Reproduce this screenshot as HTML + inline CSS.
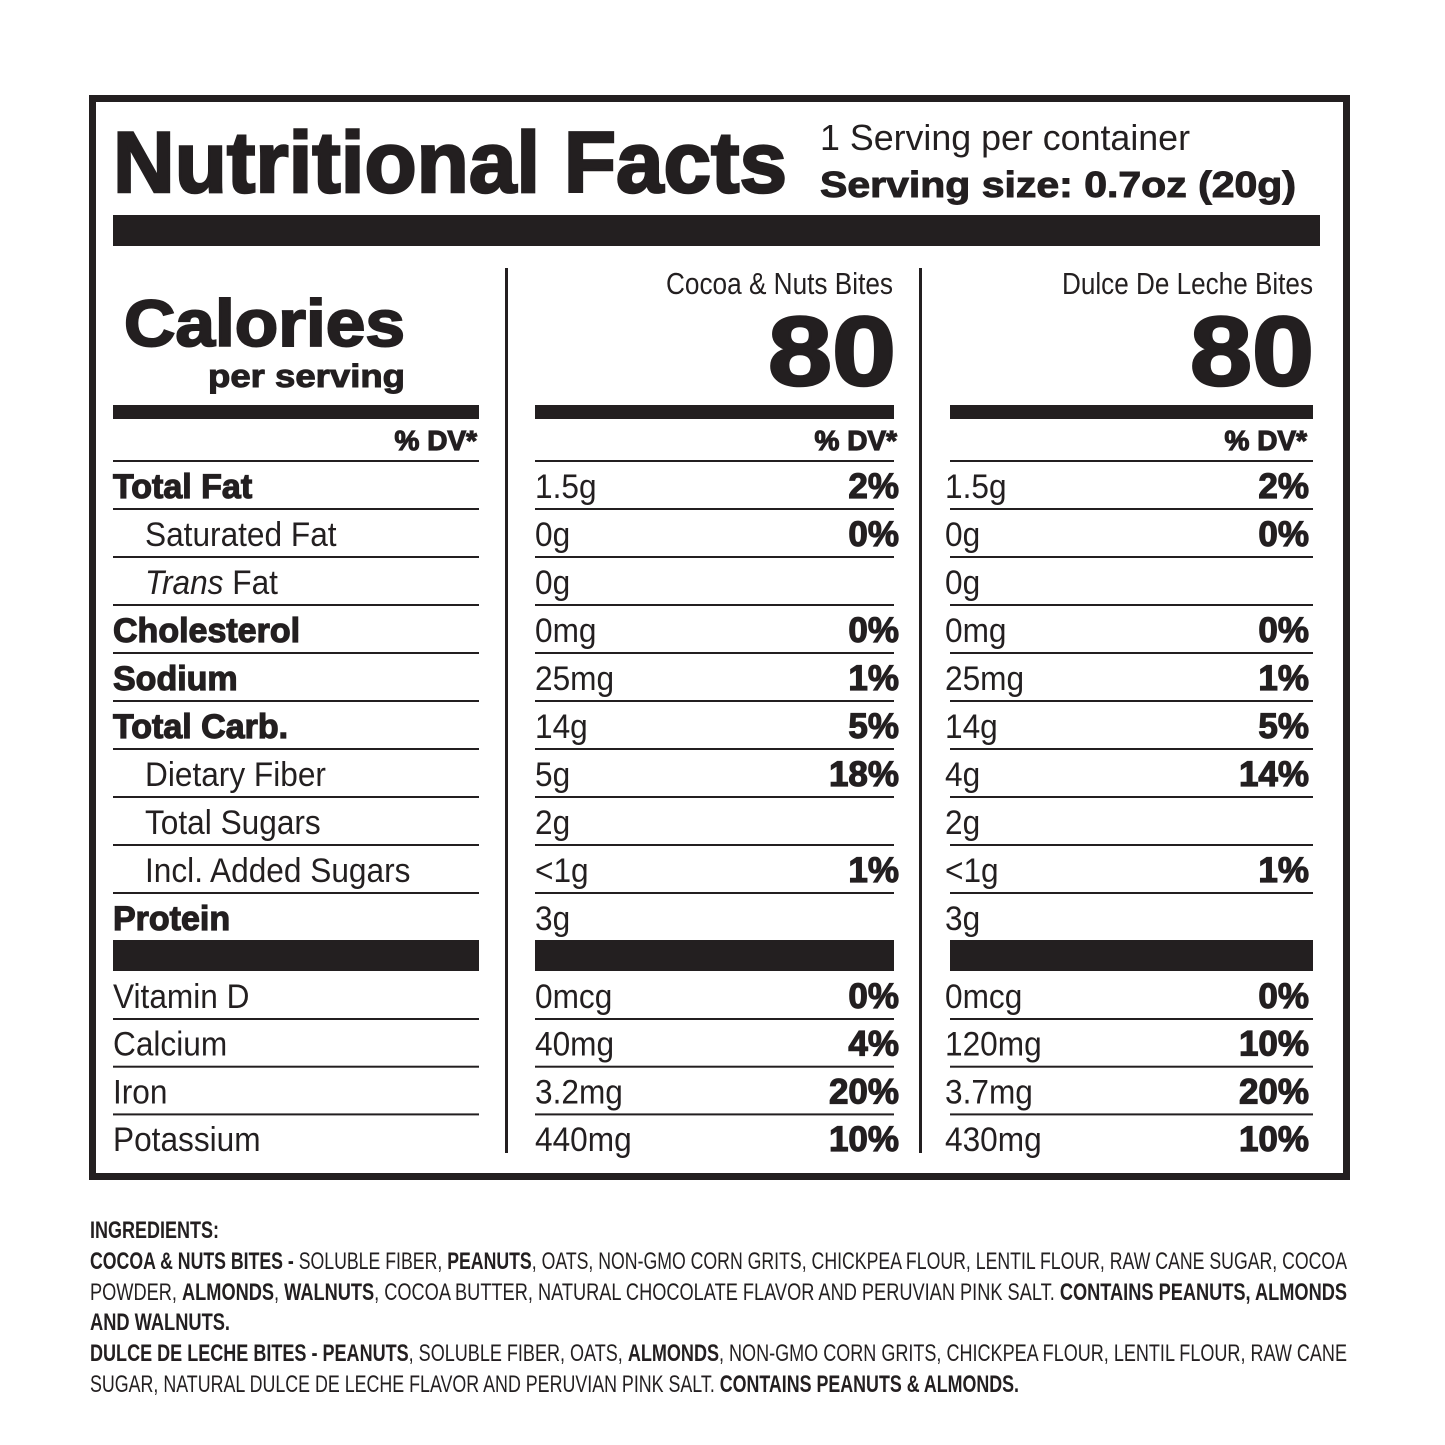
<!DOCTYPE html>
<html><head><meta charset="utf-8"><style>
html,body{margin:0;padding:0;background:#fff;}
svg{display:block;font-family:"Liberation Sans",sans-serif;fill:#231f20;}
.b{font-weight:bold;}
.h{font-weight:bold;stroke:#231f20;}
</style></head><body>
<svg id="s" width="1445" height="1445" viewBox="0 0 1445 1445" xmlns="http://www.w3.org/2000/svg">
<rect x="92.5" y="98.5" width="1254" height="1078" fill="none" stroke="#231f20" stroke-width="7"/>
<text x="113" y="192" font-size="86" class="h" stroke-width="2.5" textLength="674" lengthAdjust="spacingAndGlyphs">Nutritional Facts</text>
<text x="820" y="150" font-size="36" textLength="370" lengthAdjust="spacingAndGlyphs">1 Serving per container</text>
<text x="820" y="197" font-size="36" class="h" stroke-width="1" textLength="476" lengthAdjust="spacingAndGlyphs">Serving size: 0.7oz (20g)</text>
<rect x="113" y="215" width="1207" height="31"/>
<rect x="505" y="268" width="3" height="885"/>
<rect x="919" y="268" width="3" height="885"/>
<text x="124" y="346" font-size="66" class="h" stroke-width="2" textLength="281" lengthAdjust="spacingAndGlyphs">Calories</text>
<text x="208" y="387" font-size="32" class="h" stroke-width="1" textLength="197" lengthAdjust="spacingAndGlyphs">per serving</text>
<text x="666" y="294" font-size="31" textLength="227" lengthAdjust="spacingAndGlyphs">Cocoa &amp; Nuts Bites</text>
<text x="768" y="385" font-size="98" class="h" stroke-width="2.5" textLength="128" lengthAdjust="spacingAndGlyphs">80</text>
<text x="1062" y="294" font-size="31" textLength="251" lengthAdjust="spacingAndGlyphs">Dulce De Leche Bites</text>
<text x="1190" y="385" font-size="98" class="h" stroke-width="2.5" textLength="124" lengthAdjust="spacingAndGlyphs">80</text>
<g id="rows"></g>
<g font-size="24">
<text x="90" y="1238" class="b" textLength="129" lengthAdjust="spacingAndGlyphs">INGREDIENTS:</text>
<text x="90" y="1269" textLength="1257" lengthAdjust="spacingAndGlyphs"><tspan class="b">COCOA &amp; NUTS BITES - </tspan>SOLUBLE FIBER, <tspan class="b">PEANUTS</tspan>, OATS, NON-GMO CORN GRITS, CHICKPEA FLOUR, LENTIL FLOUR, RAW CANE SUGAR, COCOA</text>
<text x="90" y="1300" textLength="1257" lengthAdjust="spacingAndGlyphs">POWDER, <tspan class="b">ALMONDS</tspan>, <tspan class="b">WALNUTS</tspan>, COCOA BUTTER, NATURAL CHOCOLATE FLAVOR AND PERUVIAN PINK SALT. <tspan class="b">CONTAINS PEANUTS, ALMONDS</tspan></text>
<text x="90" y="1330" class="b" textLength="140" lengthAdjust="spacingAndGlyphs">AND WALNUTS.</text>
<text x="90" y="1361" textLength="1257" lengthAdjust="spacingAndGlyphs"><tspan class="b">DULCE DE LECHE BITES - PEANUTS</tspan>, SOLUBLE FIBER, OATS, <tspan class="b">ALMONDS</tspan>, NON-GMO CORN GRITS, CHICKPEA FLOUR, LENTIL FLOUR, RAW CANE</text>
<text x="90" y="1392" textLength="929" lengthAdjust="spacingAndGlyphs">SUGAR, NATURAL DULCE DE LECHE FLAVOR AND PERUVIAN PINK SALT. <tspan class="b">CONTAINS PEANUTS &amp; ALMONDS.</tspan></text>
</g>
</svg>
<script>
const nutrients=["Total Fat","Saturated Fat","Trans Fat","Cholesterol","Sodium","Total Carb.","Dietary Fiber","Total Sugars","Incl. Added Sugars","Protein"];
const nutrientBold=[1,0,0,1,1,1,0,0,0,1];
const nutrientIndent=[0,1,1,0,0,0,1,1,1,0];
const cocoaAmounts=["1.5g","0g","0g","0mg","25mg","14g","5g","2g","<1g","3g"];
const cocoaDV=["2%","0%","","0%","1%","5%","18%","","1%",""];
const dulceAmounts=["1.5g","0g","0g","0mg","25mg","14g","4g","2g","<1g","3g"];
const dulceDV=["2%","0%","","0%","1%","5%","14%","","1%",""];
const minerals=["Vitamin D","Calcium","Iron","Potassium"];
const cocoaMinAmounts=["0mcg","40mg","3.2mg","440mg"];
const cocoaMinDV=["0%","4%","20%","10%"];
const dulceMinAmounts=["0mcg","120mg","3.7mg","430mg"];
const dulceMinDV=["0%","10%","20%","10%"];
const NS="http://www.w3.org/2000/svg";
const g=document.getElementById('rows');
const cols=[[113,479],[535,894],[950,1313]];
function rect(x,y,w,h,name){const r=document.createElementNS(NS,'rect');r.setAttribute('x',x);r.setAttribute('y',y);r.setAttribute('width',w);r.setAttribute('height',h);


g.appendChild(r);}
function txt(x,y,s,bold,anchor,name,size){const t=document.createElementNS(NS,'text');t.setAttribute('x',x);t.setAttribute('y',y);t.setAttribute('font-size',size||33);
if(bold){t.setAttribute('font-weight','bold');t.setAttribute('stroke','#231f20');t.setAttribute('stroke-width','1.2');}
else t.setAttribute('transform','translate('+x+' 0) scale(0.93 1) translate('+(-x)+' 0)');
if(anchor)t.setAttribute('text-anchor',anchor);
t.textContent=s;


g.appendChild(t);return t;}
cols.forEach((c,i)=>{rect(c[0],405,c[1]-c[0],14,'calorie-bar');rect(c[0],460,c[1]-c[0],2,'dv-rule');});
txt(477,450,"% DV*",true,'end','dv-header',28);txt(897,450,"% DV*",true,'end','dv-header',28);txt(1307,450,"% DV*",true,'end','dv-header',28);
const y0=498,pitch=48;
nutrients.forEach((n,i)=>{const y=y0+i*pitch;
 const t=txt(nutrientIndent[i]?145:113,y,n,nutrientBold[i],null,'nutrient-label',34);
 if(n==="Trans Fat"){t.textContent="";const a=document.createElementNS(NS,'tspan');a.setAttribute('font-style','italic');a.textContent="Trans";t.appendChild(a);t.appendChild(document.createTextNode(" Fat"));}
 txt(535,y,cocoaAmounts[i],false,null,'cocoa-amount',34);
 if(cocoaDV[i])txt(899,y,cocoaDV[i],true,'end','cocoa-dv',35);
 txt(945,y,dulceAmounts[i],false,null,'dulce-amount',34);
 if(dulceDV[i])txt(1309,y,dulceDV[i],true,'end','dulce-dv',35);
 if(i<nutrients.length-1)cols.forEach(c=>rect(c[0],y+10,c[1]-c[0],2,'row-rule'));
});
cols.forEach(c=>rect(c[0],940,c[1]-c[0],31,'protein-bar'));
minerals.forEach((n,i)=>{const y=1008+i*47.7;
 txt(113,y,n,false,null,'mineral-label',34);
 txt(535,y,cocoaMinAmounts[i],false,null,'cocoa-mineral-amount',34);
 txt(899,y,cocoaMinDV[i],true,'end','cocoa-mineral-dv',35);
 txt(945,y,dulceMinAmounts[i],false,null,'dulce-mineral-amount',34);
 txt(1309,y,dulceMinDV[i],true,'end','dulce-mineral-dv',35);
 if(i<minerals.length-1)cols.forEach(c=>rect(c[0],y+10,c[1]-c[0],2,'row-rule'));
});
</script>
</body></html>
